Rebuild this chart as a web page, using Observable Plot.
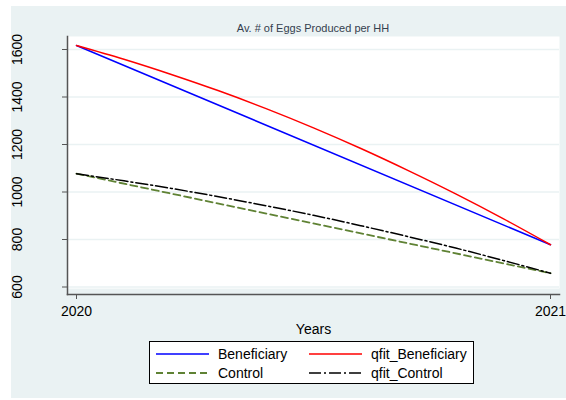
<!DOCTYPE html>
<html>
<head>
<meta charset="utf-8">
<script src="https://cdn.jsdelivr.net/npm/d3@7"></script>
<script src="https://cdn.jsdelivr.net/npm/@observablehq/plot@0.6"></script>
<style>
  html, body { margin: 0; padding: 0; background: #fff; }
  #wrap { position: relative; width: 566px; height: 400px; overflow: hidden; background: #fff;
          font-family: "Liberation Sans", Arial, Helvetica, sans-serif; }
  #bg { position: absolute; left: 11px; top: 6px; width: 555px; height: 392px; background: #EAF2F3; }
  #chart { position: absolute; left: 0; top: 0; }
  #title { position: absolute; left: 67px; width: 492px; top: 21px; text-align: center;
           font-size: 11px; line-height: 14px; color: #34404e; }
  #legend { position: absolute; left: 149px; top: 341px; width: 325px; height: 43px;
            background: #fff; border: 1px solid #000; box-sizing: border-box; }
  .item { position: absolute; height: 16px; display: flex; align-items: center; font-size: 14px; color: #000; }
  .item svg { margin-right: 9px; }
</style>
</head>
<body>
<div id="wrap">
  <div id="bg"></div>
  <div id="chart"></div>
  <div id="title">Av. # of Eggs Produced per HH</div>
  <div id="legend"></div>
</div>
<script>
// Observed group means at the two survey rounds
const years = [2020, 2021];
const beneficiary = [1617, 778];
const control = [1077, 658];

// Quadratic fit curves, sampled along the year axis
const fitYears = [2020, 2020.1, 2020.2, 2020.3, 2020.4, 2020.5, 2020.6, 2020.7, 2020.8, 2020.9, 2021];
const qfitBeneficiary = [1617, 1559, 1495, 1426, 1351, 1270, 1183, 1090, 992, 888, 778];
const qfitControl = [1077, 1047, 1015, 980, 942, 902, 858, 812, 764, 712, 658];

const yTicks = [600, 800, 1000, 1200, 1400, 1600];
const xTicks = [2020, 2021];

const series = [
  {name: "Beneficiary", x: years, y: beneficiary, stroke: "#0000ff", width: 1.5, dash: null},
  {name: "qfit_Beneficiary", x: fitYears, y: qfitBeneficiary, stroke: "#ff0000", width: 1.5, dash: null},
  {name: "Control", x: years, y: control, stroke: "#5f8234", width: 1.8, dash: "7,4"},
  {name: "qfit_Control", x: fitYears, y: qfitControl, stroke: "#000000", width: 1.5, dash: "12,3,2,3"}
];

const rows = (s) => s.x.map((x, i) => ({x, y: s.y[i]}));

const chart = Plot.plot({
  width: 566,
  height: 400,
  marginLeft: 67,
  marginRight: 7,
  marginTop: 36,
  marginBottom: 106,
  x: {domain: [2020, 2021], insetLeft: 9, insetRight: 9},
  y: {domain: [600, 1600], insetTop: 13, insetBottom: 7.5},
  style: {background: "transparent", fontFamily: "'Liberation Sans', Arial, sans-serif", fontSize: "14px", color: "#000"},
  marks: [
    Plot.frame({fill: "white", insetBottom: 6}),
    Plot.gridY(yTicks, {stroke: "#EAF2F3", strokeOpacity: 1, strokeWidth: 1.5}),
    Plot.frame({anchor: "left", stroke: "#555", strokeWidth: 1.5}),
    Plot.frame({anchor: "bottom", stroke: "#555", strokeWidth: 1.5}),
    Plot.axisY(yTicks, {tickSize: 5, tickRotate: -90, tickPadding: 41, fontSize: 14, stroke: "#555",
      tickFormat: (d) => String(d), label: null}),
    Plot.axisX(xTicks, {tickSize: 5, tickPadding: 7, fontSize: 14, stroke: "#555", tickFormat: (d) => String(d),
      label: "Years", labelAnchor: "center", labelArrow: "none", labelOffset: 39}),
    ...series.map((s) => Plot.line(rows(s), {
      x: "x", y: "y", stroke: s.stroke, strokeWidth: s.width,
      strokeDasharray: s.dash, curve: "monotone-x"
    }))
  ]
});
document.getElementById("chart").appendChild(chart);

// Legend: two columns, two rows, inside a boxed panel below the axis title
const legend = document.getElementById("legend");
const pos = [
  {left: 6, top: 4},    // Beneficiary
  {left: 159, top: 4},  // qfit_Beneficiary
  {left: 6, top: 23},   // Control
  {left: 159, top: 23}  // qfit_Control
];
series.forEach((s, i) => {
  const item = document.createElement("div");
  item.className = "item";
  item.style.left = pos[i].left + "px";
  item.style.top = pos[i].top + "px";
  const ns = "http://www.w3.org/2000/svg";
  const svg = document.createElementNS(ns, "svg");
  svg.setAttribute("width", 53);
  svg.setAttribute("height", 10);
  const ln = document.createElementNS(ns, "line");
  ln.setAttribute("x1", 0); ln.setAttribute("x2", 53);
  ln.setAttribute("y1", 5); ln.setAttribute("y2", 5);
  ln.setAttribute("stroke", s.stroke);
  ln.setAttribute("stroke-width", s.width);
  if (s.dash) ln.setAttribute("stroke-dasharray", s.dash);
  svg.appendChild(ln);
  item.appendChild(svg);
  const label = document.createElement("span");
  label.textContent = s.name;
  item.appendChild(label);
  legend.appendChild(item);
});
</script>
</body>
</html>
